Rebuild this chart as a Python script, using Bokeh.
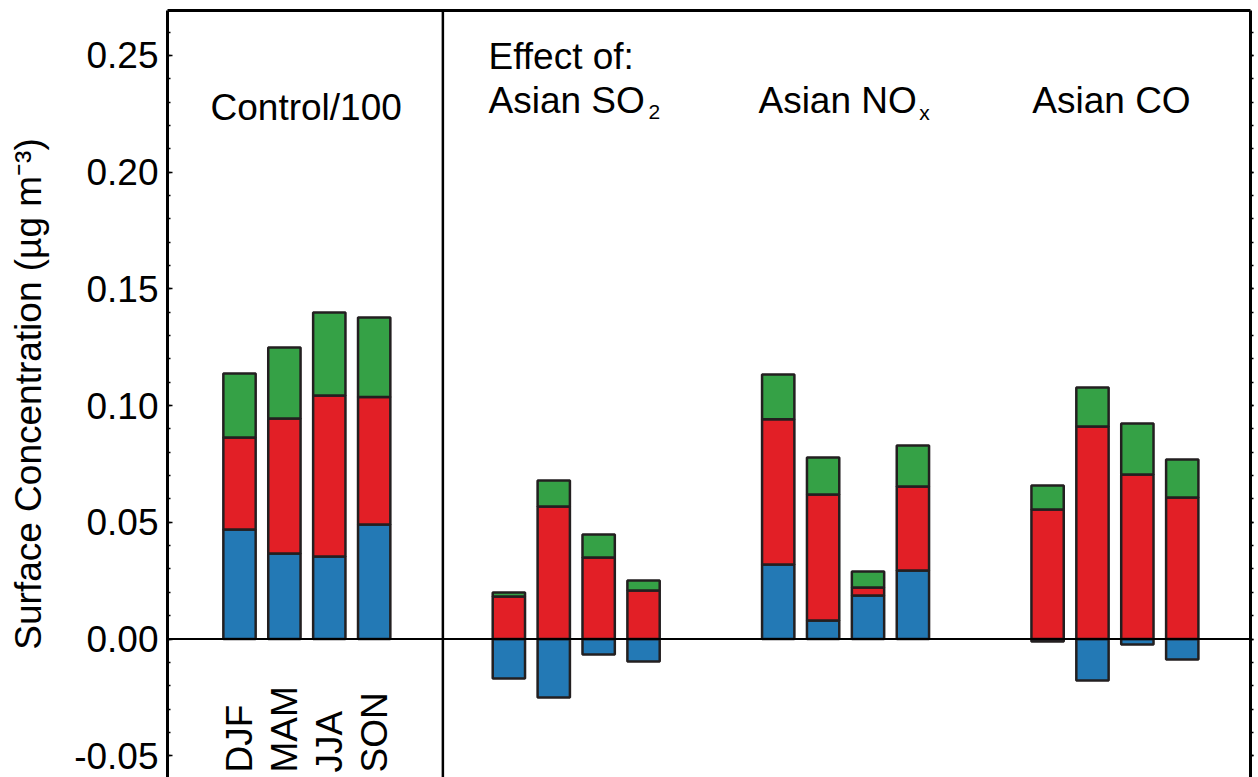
from math import pi
from bokeh.plotting import figure
from bokeh.models import (Range1d, LinearAxis, SingleIntervalTicker, FixedTicker,
                          PrintfTickFormatter, CustomJSTickFormatter, Span, Label,
                          ColumnDataSource)
from bokeh.embed import file_html
from bokeh.resources import INLINE

# ---------------- data ----------------
groups = ["Control/100", "Asian SO2", "Asian NOx", "Asian CO"]
seasons = ["DJF", "MAM", "JJA", "SON"]

# three stacked components per bar (order: groups x seasons)
blue_vals = [0.0469, 0.0366, 0.0353, 0.0491,
             -0.0169, -0.0251, -0.0066, -0.0096,
             0.0319, 0.0079, 0.0186, 0.0293,
             -0.0011, -0.0178, -0.0024, -0.0088]
red_vals = [0.0394, 0.0579, 0.0690, 0.0546,
            0.0182, 0.0568, 0.0349, 0.0208,
            0.0622, 0.0540, 0.0035, 0.0360,
            0.0555, 0.0910, 0.0705, 0.0606]
green_vals = [0.0275, 0.0304, 0.0356, 0.0340,
              0.0017, 0.0111, 0.0099, 0.0043,
              0.0192, 0.0159, 0.0068, 0.0176,
              0.0103, 0.0168, 0.0218, 0.0163]

FONT = "Liberation Sans"
EDGE = "#231f20"
colors = ["#2379b5", "#e21f26", "#35a146"]

# ---------------- positions & stacking ----------------
xs = []
for gi in range(len(groups)):
    for si in range(len(seasons)):
        xs.append(gi * 6 + si)

comps = [blue_vals, red_vals, green_vals]
pos_base = [0.0] * len(xs)
neg_base = [0.0] * len(xs)
stacks = []
for vals in comps:
    bots, tops = [], []
    for i, v in enumerate(vals):
        if v >= 0:
            b, t = pos_base[i], pos_base[i] + v
            pos_base[i] = t
        else:
            t, b = neg_base[i], neg_base[i] + v
            neg_base[i] = b
        bots.append(b)
        tops.append(t)
    stacks.append((bots, tops))

# ---------------- figure ----------------
p = figure(width=1258, height=777,
           x_range=Range1d(-1.604, 22.52), y_range=Range1d(-0.05934, 0.26928),
           output_backend="svg", toolbar_location=None, x_axis_location=None,
           min_border_left=167, min_border_right=8, min_border_top=10, min_border_bottom=0)
p.outline_line_color = None
p.grid.grid_line_color = None
p.background_fill_color = "white"
p.border_fill_color = "white"

yax = p.yaxis[0]
yax.ticker = SingleIntervalTicker(interval=0.05, num_minor_ticks=5)
yax.formatter = PrintfTickFormatter(format="%.2f")
yax.major_label_text_font = FONT
yax.major_label_text_font_size = "37px"
yax.major_label_text_color = "black"
yax.axis_line_width = 3
yax.axis_line_color = "black"
yax.major_tick_in = 5
yax.major_tick_out = 0
yax.minor_tick_in = 3
yax.minor_tick_out = 0
yax.major_tick_line_width = 1.5
yax.minor_tick_line_width = 1.5
yax.major_label_standoff = 9
yax.axis_label = "Surface Concentration (\u00b5g m\u207b\u00b3)"
yax.axis_label_text_font = FONT
yax.axis_label_text_font_size = "37px"
yax.axis_label_text_font_style = "normal"
yax.axis_label_text_color = "black"
yax.axis_label_standoff = 22

rax = LinearAxis(ticker=SingleIntervalTicker(interval=0.05, num_minor_ticks=5),
                 formatter=CustomJSTickFormatter(code="return ''"),
                 major_label_standoff=0,
                 axis_line_width=3, axis_line_color="black",
                 major_tick_in=0, major_tick_out=3, minor_tick_in=0, minor_tick_out=3,
                 major_tick_line_width=1.5, minor_tick_line_width=1.5)
p.add_layout(rax, "right")

tax = LinearAxis(ticker=FixedTicker(ticks=[]), axis_line_width=3, axis_line_color="black",
                 major_tick_in=0, major_tick_out=0, minor_tick_in=0, minor_tick_out=0,
                 major_label_standoff=0)
p.add_layout(tax, "above")

# bars
for (bots, tops), col in zip(stacks, colors):
    src = ColumnDataSource(dict(x=xs, bottom=bots, top=tops))
    p.vbar(x="x", width=0.72, bottom="bottom", top="top", source=src,
           fill_color=col, line_color=EDGE, line_width=2.5)

# zero line and divider
p.add_layout(Span(location=0, dimension="width", line_color="black", line_width=2))
p.add_layout(Span(location=4.53, dimension="height", line_color="black", line_width=2.5))

# season labels under control bars
for si, s in enumerate(seasons):
    p.add_layout(Label(x=si, y=-0.0572, text=s, angle=pi / 2, text_align="left",
                       text_baseline="middle", text_font=FONT, text_font_size="37px",
                       text_color="black"))

def lab(x, y, t, size="37px"):
    p.add_layout(Label(x=x, y=y + 0.0056, text=t, text_align="left", text_baseline="alphabetic",
                       text_font=FONT, text_font_size=size, text_color="black"))

lab(-0.646, 0.2221, "Control/100")
lab(5.546, 0.2440, "Effect of:")
lab(5.546, 0.2251, "Asian SO")
lab(9.11, 0.2200, "2", "21px")
lab(11.56, 0.2251, "Asian NO")
lab(15.14, 0.2200, "x", "21px")
lab(17.66, 0.2251, "Asian CO")

open("out.html", "w").write(file_html(p, INLINE))
